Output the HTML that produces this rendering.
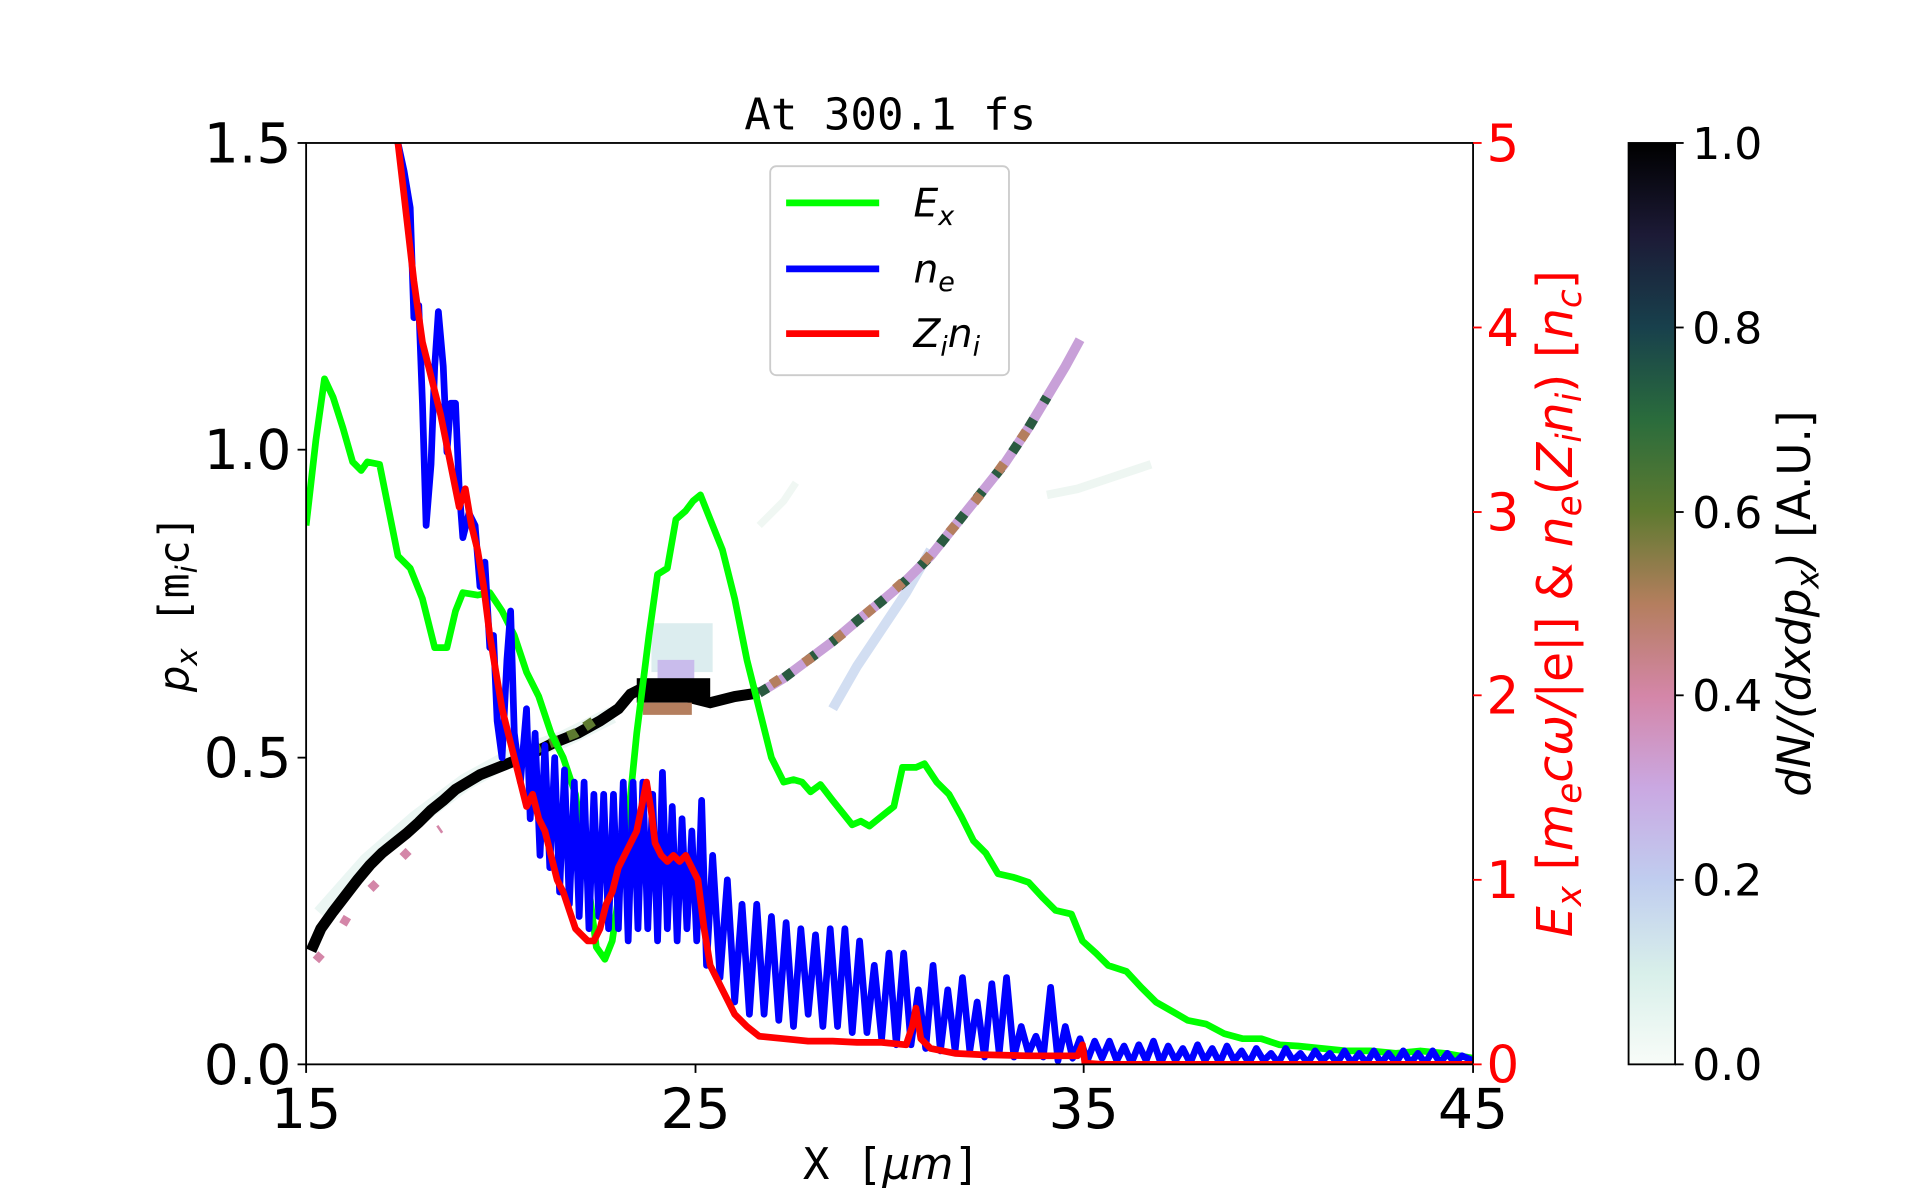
<!DOCTYPE html>
<html><head><meta charset="utf-8"><style>html,body{margin:0;padding:0;background:#fff}svg{display:block}</style></head><body>
<svg width="1920" height="1200" viewBox="0 0 1568 982" preserveAspectRatio="none" xmlns="http://www.w3.org/2000/svg" font-family="DejaVu Sans, Liberation Sans, sans-serif">
<defs>
<linearGradient id="cb" x1="0" y1="1" x2="0" y2="0">
<stop offset="0" stop-color="#f8fcf8"/><stop offset="0.1" stop-color="#d8efea"/><stop offset="0.2" stop-color="#c0cdef"/><stop offset="0.3" stop-color="#caa8e2"/><stop offset="0.4" stop-color="#d486a8"/><stop offset="0.5" stop-color="#b47e5e"/><stop offset="0.6" stop-color="#5e7a30"/><stop offset="0.7" stop-color="#2a6c3c"/><stop offset="0.8" stop-color="#18404c"/><stop offset="0.9" stop-color="#1c1a36"/><stop offset="1" stop-color="#000"/>
</linearGradient>
<clipPath id="ax"><rect x="250" y="117" width="953" height="754"/></clipPath>
</defs>
<g clip-path="url(#ax)">
<polyline points="262,748 300,705 340,670 380,640 420,618 460,605 500,585" fill="none" stroke="#e6f4f0" stroke-width="14" opacity="0.8"/>
<rect x="532" y="510" width="50" height="40" fill="#dcedef"/>
<rect x="537" y="540" width="30" height="22" fill="#c9bcec"/>
<polyline points="680,580 700,545 720,515 740,485 760,450" fill="none" stroke="#d2def2" stroke-width="8"/>
<polyline points="855,405 880,400 910,390 940,380" fill="none" stroke="#eef6f2" stroke-width="7"/>
<polyline points="620,430 640,410 650,395" fill="none" stroke="#f0f7f3" stroke-width="6"/>
<polyline points="254,778 262,760 272,746 282,733 292,720 302,708 312,698 322,690 332,682 342,673 352,663 362,655 372,646 382,640 392,634 402,630 412,626 422,622 432,618" fill="none" stroke="#000" stroke-width="9"/>
<polyline points="258,786 272,770 290,740 335,695 360,678" fill="none" stroke="#d486a8" stroke-width="7" stroke-dasharray="7,30"/>
<polyline points="432,618 452,608 472,600 490,590 505,580 515,568 525,563 545,563 560,570 580,575 600,570 620,567" fill="none" stroke="#000" stroke-width="9"/>
<rect x="520" y="555" width="60" height="20" fill="#000"/>
<rect x="525" y="575" width="40" height="10" fill="#b47e5e"/>
<polyline points="420,622 440,612 455,606 470,600 485,590" fill="none" stroke="#5e7a30" stroke-width="8" stroke-dasharray="8,8"/>
<polyline points="620,567 640,555 660,540 680,525 700,508 720,492 740,475 760,455 780,430 800,405 820,380 840,350 855,325 870,300 882,278" fill="none" stroke="#c8a0d8" stroke-width="8"/>
<polyline points="620,567 640,555 660,540 680,525 700,508 720,492 740,475 760,455 780,430 800,405 820,380 840,350 855,325" fill="none" stroke="#2a5a40" stroke-width="8" stroke-dasharray="8,16"/>
<polyline points="630,560 650,547 670,533 690,517 710,500 730,483 750,465 770,442 790,418 810,393 830,365 848,338" fill="none" stroke="#b47e5e" stroke-width="8" stroke-dasharray="8,24"/>
<polyline fill="none" stroke="#00ff00" stroke-width="5.5" stroke-linejoin="round" points="250,430 258,360 265,310 272,325 280,350 288,378 295,385 300,378 310,380 318,420 325,455 335,465 345,490 355,530 365,530 372,500 378,485 390,487 400,485 410,500 420,520 430,550 440,570 450,600 460,620 470,650 480,720 487,775 494,785 500,770 510,700 520,600 530,520 537,470 545,465 552,425 560,418 566,410 572,405 580,425 590,450 600,490 610,540 620,580 630,620 640,640 648,638 655,640 662,648 670,642 680,655 688,665 696,675 703,672 710,676 720,668 730,660 737,628 748,628 755,625 765,640 775,650 785,668 795,688 805,698 815,715 828,718 840,722 852,735 862,745 875,748 884,770 895,780 905,790 920,795 932,808 944,820 958,828 970,835 985,838 1000,846 1015,850 1030,850 1045,855 1060,856 1080,858 1100,860 1120,860 1140,862 1160,860 1180,862 1203,866"/>
<polyline fill="none" stroke="#0000ff" stroke-width="5.5" stroke-linejoin="round" points="325,117 330,140 335,170 338,260 342,250 345,330 348,430 352,380 355,300 358,255 362,300 365,370 368,330 372,330 375,400 378,440 383,420 388,430 392,480 396,460 400,530 403,520 406,590 410,620 414,540 417,500 420,600 425,640 430,580 433,670 437,600 441,700 445,610 449,710 453,620 457,730 461,630 465,740 469,640 473,750 477,640 481,760 485,650 489,750 493,650 497,760 501,650 505,760 509,640 513,770 517,640 521,760 525,640 529,760 533,650 537,770 541,632 545,760 549,660 553,770 557,670 561,760 565,680 569,770 573,655 577,790 582,700 588,800 594,720 600,820 606,740 612,830 618,740 624,830 630,750 636,835 642,755 648,840 654,760 660,830 666,765 672,840 678,760 684,840 690,760 696,845 702,770 708,845 714,790 720,850 726,780 732,855 738,780 744,855 750,810 756,858 762,790 768,860 774,810 780,860 786,800 792,860 798,820 804,865 810,805 816,862 822,800 828,865 834,840 840,862 846,848 852,865 858,808 864,868 870,840 876,866 882,850 888,868 894,852 900,866 906,852 912,868 918,856 924,870 930,855 936,868 942,852 948,870 954,856 960,868 966,858 972,870 978,855 984,868 990,858 996,870 1002,856 1008,868 1014,860 1020,870 1026,858 1032,868 1038,862 1044,870 1050,858 1056,868 1062,862 1068,870 1074,860 1080,868 1086,862 1092,870 1098,860 1104,870 1110,862 1116,870 1122,860 1128,870 1134,862 1140,870 1146,860 1152,870 1158,862 1164,870 1170,860 1176,870 1182,862 1188,870 1194,864 1203,868"/>
<polyline fill="none" stroke="#ff0000" stroke-width="5.5" stroke-linejoin="round" points="325,117 330,160 338,230 345,280 350,300 355,320 360,340 365,365 370,390 375,415 380,400 385,430 390,450 395,480 400,520 405,550 410,580 415,600 420,620 425,640 430,660 435,650 440,670 445,680 450,700 455,720 460,730 465,745 470,760 475,765 480,770 485,770 490,760 495,740 500,730 505,710 510,700 515,690 520,680 525,655 528,640 532,665 535,690 540,700 545,705 550,700 555,705 560,700 565,710 570,720 575,760 580,790 585,800 590,810 595,820 600,830 610,840 620,848 640,850 660,852 680,852 700,853 720,853 740,855 745,840 748,825 752,850 760,858 780,862 800,863 840,864 880,864 884,855 886,870 900,871 1203,871"/>
</g>
<rect x="250" y="117" width="953" height="754" fill="none" stroke="#000" stroke-width="1.5"/>
<g stroke="#000" stroke-width="1.5">
<line x1="243" y1="117" x2="250" y2="117"/><line x1="243" y1="368" x2="250" y2="368"/><line x1="243" y1="620" x2="250" y2="620"/><line x1="243" y1="871" x2="250" y2="871"/>
<line x1="250" y1="871" x2="250" y2="878"/><line x1="568" y1="871" x2="568" y2="878"/><line x1="885" y1="871" x2="885" y2="878"/><line x1="1203" y1="871" x2="1203" y2="878"/>
</g>
<g font-size="45" fill="#000" text-anchor="end">
<text x="238" y="133">1.5</text><text x="238" y="384">1.0</text><text x="238" y="636">0.5</text><text x="238" y="887">0.0</text>
</g>
<g font-size="45" fill="#000" text-anchor="middle">
<text x="250" y="923">15</text><text x="568" y="923">25</text><text x="885" y="923">35</text><text x="1203" y="923">45</text>
</g>
<text x="728" y="965" font-family="DejaVu Sans Mono, Liberation Mono, monospace" font-size="36" text-anchor="middle">X [<tspan font-style="italic" font-family="DejaVu Sans">μm</tspan>]</text>
<text x="727" y="106" font-family="DejaVu Sans Mono, Liberation Mono, monospace" font-size="36" text-anchor="middle">At 300.1 fs</text>
<text transform="translate(154,494) rotate(-90)" font-size="34" text-anchor="middle"><tspan font-style="italic">p<tspan font-size="24" dy="7">x</tspan></tspan><tspan dy="-7" font-family="DejaVu Sans Mono, monospace"> [m</tspan><tspan font-style="italic" font-size="24" dy="7">i</tspan><tspan dy="-7" font-family="DejaVu Sans Mono, monospace">c]</tspan></text>
<g stroke="#ff0000" stroke-width="1.5">
<line x1="1203" y1="117" x2="1210" y2="117"/><line x1="1203" y1="268" x2="1210" y2="268"/><line x1="1203" y1="419" x2="1210" y2="419"/><line x1="1203" y1="569" x2="1210" y2="569"/><line x1="1203" y1="720" x2="1210" y2="720"/><line x1="1203" y1="871" x2="1210" y2="871"/>
</g>
<g font-size="42" fill="#ff0000">
<text x="1214" y="132">5</text><text x="1214" y="283">4</text><text x="1214" y="434">3</text><text x="1214" y="584">2</text><text x="1214" y="735">1</text><text x="1214" y="886">0</text>
</g>
<text transform="translate(1284,494) rotate(-90)" font-size="40" fill="#ff0000" text-anchor="middle" font-style="italic">E<tspan font-size="28" dy="7">x</tspan><tspan dy="-7" font-style="normal"> [</tspan>m<tspan font-size="28" dy="7">e</tspan><tspan dy="-7">cω/</tspan><tspan font-style="normal">|e|] &amp; </tspan>n<tspan font-size="28" dy="7">e</tspan><tspan dy="-7" font-style="normal">(</tspan>Z<tspan font-size="28" dy="7">i</tspan><tspan dy="-7">n</tspan><tspan font-size="28" dy="7">i</tspan><tspan dy="-7" font-style="normal">) [</tspan>n<tspan font-size="28" dy="7">c</tspan><tspan dy="-7" font-style="normal">]</tspan></text>
<rect x="629" y="136" width="195" height="171" rx="5" fill="#fff" stroke="#ccc" stroke-width="1.5"/>
<line x1="642" y1="166" x2="718" y2="166" stroke="#00ff00" stroke-width="5.5"/>
<line x1="642" y1="220" x2="718" y2="220" stroke="#0000ff" stroke-width="5.5"/>
<line x1="642" y1="273" x2="718" y2="273" stroke="#ff0000" stroke-width="5.5"/>
<g font-size="32" font-style="italic">
<text x="746" y="177">E<tspan font-size="22" dy="7">x</tspan></text>
<text x="746" y="231">n<tspan font-size="22" dy="7">e</tspan></text>
<text x="746" y="284">Z<tspan font-size="22" dy="7">i</tspan><tspan dy="-7">n</tspan><tspan font-size="22" dy="7">i</tspan></text>
</g>
<rect x="1330" y="117" width="38" height="754" fill="url(#cb)" stroke="#000" stroke-width="1.5"/>
<g stroke="#000" stroke-width="1.5">
<line x1="1368" y1="117" x2="1375" y2="117"/><line x1="1368" y1="268" x2="1375" y2="268"/><line x1="1368" y1="419" x2="1375" y2="419"/><line x1="1368" y1="569" x2="1375" y2="569"/><line x1="1368" y1="720" x2="1375" y2="720"/><line x1="1368" y1="871" x2="1375" y2="871"/>
</g>
<g font-size="36" fill="#000">
<text x="1382" y="130">1.0</text><text x="1382" y="281">0.8</text><text x="1382" y="432">0.6</text><text x="1382" y="582">0.4</text><text x="1382" y="733">0.2</text><text x="1382" y="884">0.0</text>
</g>
<text transform="translate(1478,494) rotate(-90)" font-size="37" text-anchor="middle"><tspan font-style="italic">dN/(dxdp<tspan font-size="26" dy="7">x</tspan><tspan dy="-7">)</tspan></tspan> [A.U.]</text>
</svg>
</body></html>
